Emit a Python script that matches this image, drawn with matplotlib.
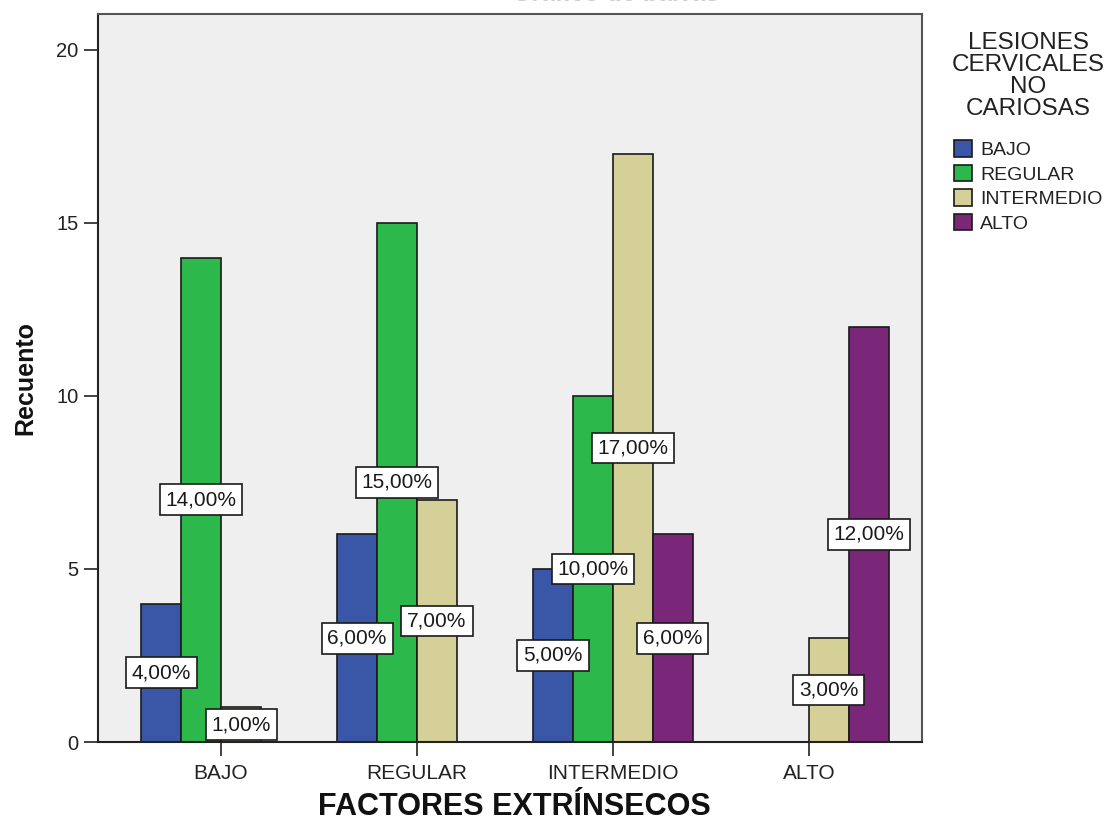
import numpy as np
import matplotlib
matplotlib.use("Agg")
import matplotlib.pyplot as plt

plt.rcParams['font.family'] = ['Liberation Sans', 'DejaVu Sans']

factores = ['BAJO', 'REGULAR', 'INTERMEDIO', 'ALTO']
lesiones = ['BAJO', 'REGULAR', 'INTERMEDIO', 'ALTO']
colores = ['#3a56a6', '#2db84b', '#d5cf98', '#7b2779']

# recuento por nivel de lesion (filas) en cada factor extrinseco (columnas)
bajo = [4, 6, 5, 0]
regular = [14, 15, 10, 0]
intermedio = [1, 7, 17, 3]
alto = [0, 0, 6, 12]
recuentos = [bajo, regular, intermedio, alto]
total = 100

W, H = 1114, 823
fig = plt.figure(figsize=(W / 100, H / 100), dpi=100)
fig.patch.set_facecolor('white')
ax = fig.add_axes([98 / W, (H - 742) / H, (922 - 98) / W, (742 - 14) / H])
ax.set_facecolor('#efefef')

x = np.arange(len(factores))
ancho = 0.204
offs = (np.arange(4) - 1.5) * ancho

for k, serie in enumerate(recuentos):
    vals = np.array(serie)
    ax.bar(x + offs[k], vals, ancho, color=colores[k], edgecolor='#1a1a1a',
           linewidth=1.2, label=lesiones[k], zorder=2)

# etiquetas de porcentaje en el centro de cada barra
for k, serie in enumerate(recuentos):
    for i, v in enumerate(serie):
        if v == 0:
            continue
        pct = f"{100 * v / total:.2f}".replace('.', ',') + '%'
        ax.text(x[i] + offs[k], v / 2, pct, ha='center', va='center',
                fontsize=15, color='#1a1a1a', zorder=5,
                bbox=dict(boxstyle='square,pad=0.28', fc='white',
                          ec='#1a1a1a', lw=1.2))

ax.set_xlim(-0.628, 3.577)
ax.set_ylim(0, 21.04)
ax.set_yticks([0, 5, 10, 15, 20])
ax.set_xticks(x)
ax.set_xticklabels(factores, fontsize=15)
ax.tick_params(axis='y', labelsize=14.5, length=10, width=1.2, pad=4,
               colors='#222222')
ax.tick_params(axis='x', length=10, width=1.2, pad=6, colors='#222222')

for s in ['left', 'bottom']:
    ax.spines[s].set_color('#222222')
    ax.spines[s].set_linewidth(1.5)
for s in ['top', 'right']:
    ax.spines[s].set_color('#555555')
    ax.spines[s].set_linewidth(1.5)

fig.text(25 / W, 1 - 378 / H, 'Recuento', rotation=90, ha='center',
         va='center', fontsize=18, fontweight='bold', color='#111111')
fig.text(514 / W, 1 - 807 / H, 'FACTORES EXTRÍNSECOS', ha='center',
         va='center', fontsize=22, fontweight='bold', color='#111111')
# titulo del grafico, casi fuera del lienzo
fig.text(616 / W, 1 - 1 / H, 'Gráfico de barras', ha='center',
         va='baseline', fontsize=18, fontweight='bold', color='#cccccc')

# titulo de la leyenda y entradas
fig.text(1028 / W, 1 - 76 / H, 'LESIONES\nCERVICALES\nNO\nCARIOSAS',
         ha='center', va='center', fontsize=17.5, color='#222222',
         linespacing=1.0)
leg = ax.legend(loc='upper left', bbox_to_anchor=(954 / W, 1 - 140 / H),
                bbox_transform=fig.transFigure, frameon=False,
                fontsize=14, borderaxespad=0, borderpad=0,
                handlelength=0.95, handleheight=0.95, handletextpad=0.4,
                labelspacing=0.28)
for t in leg.get_texts():
    t.set_color('#222222')

fig.savefig('out.png', dpi=100)
